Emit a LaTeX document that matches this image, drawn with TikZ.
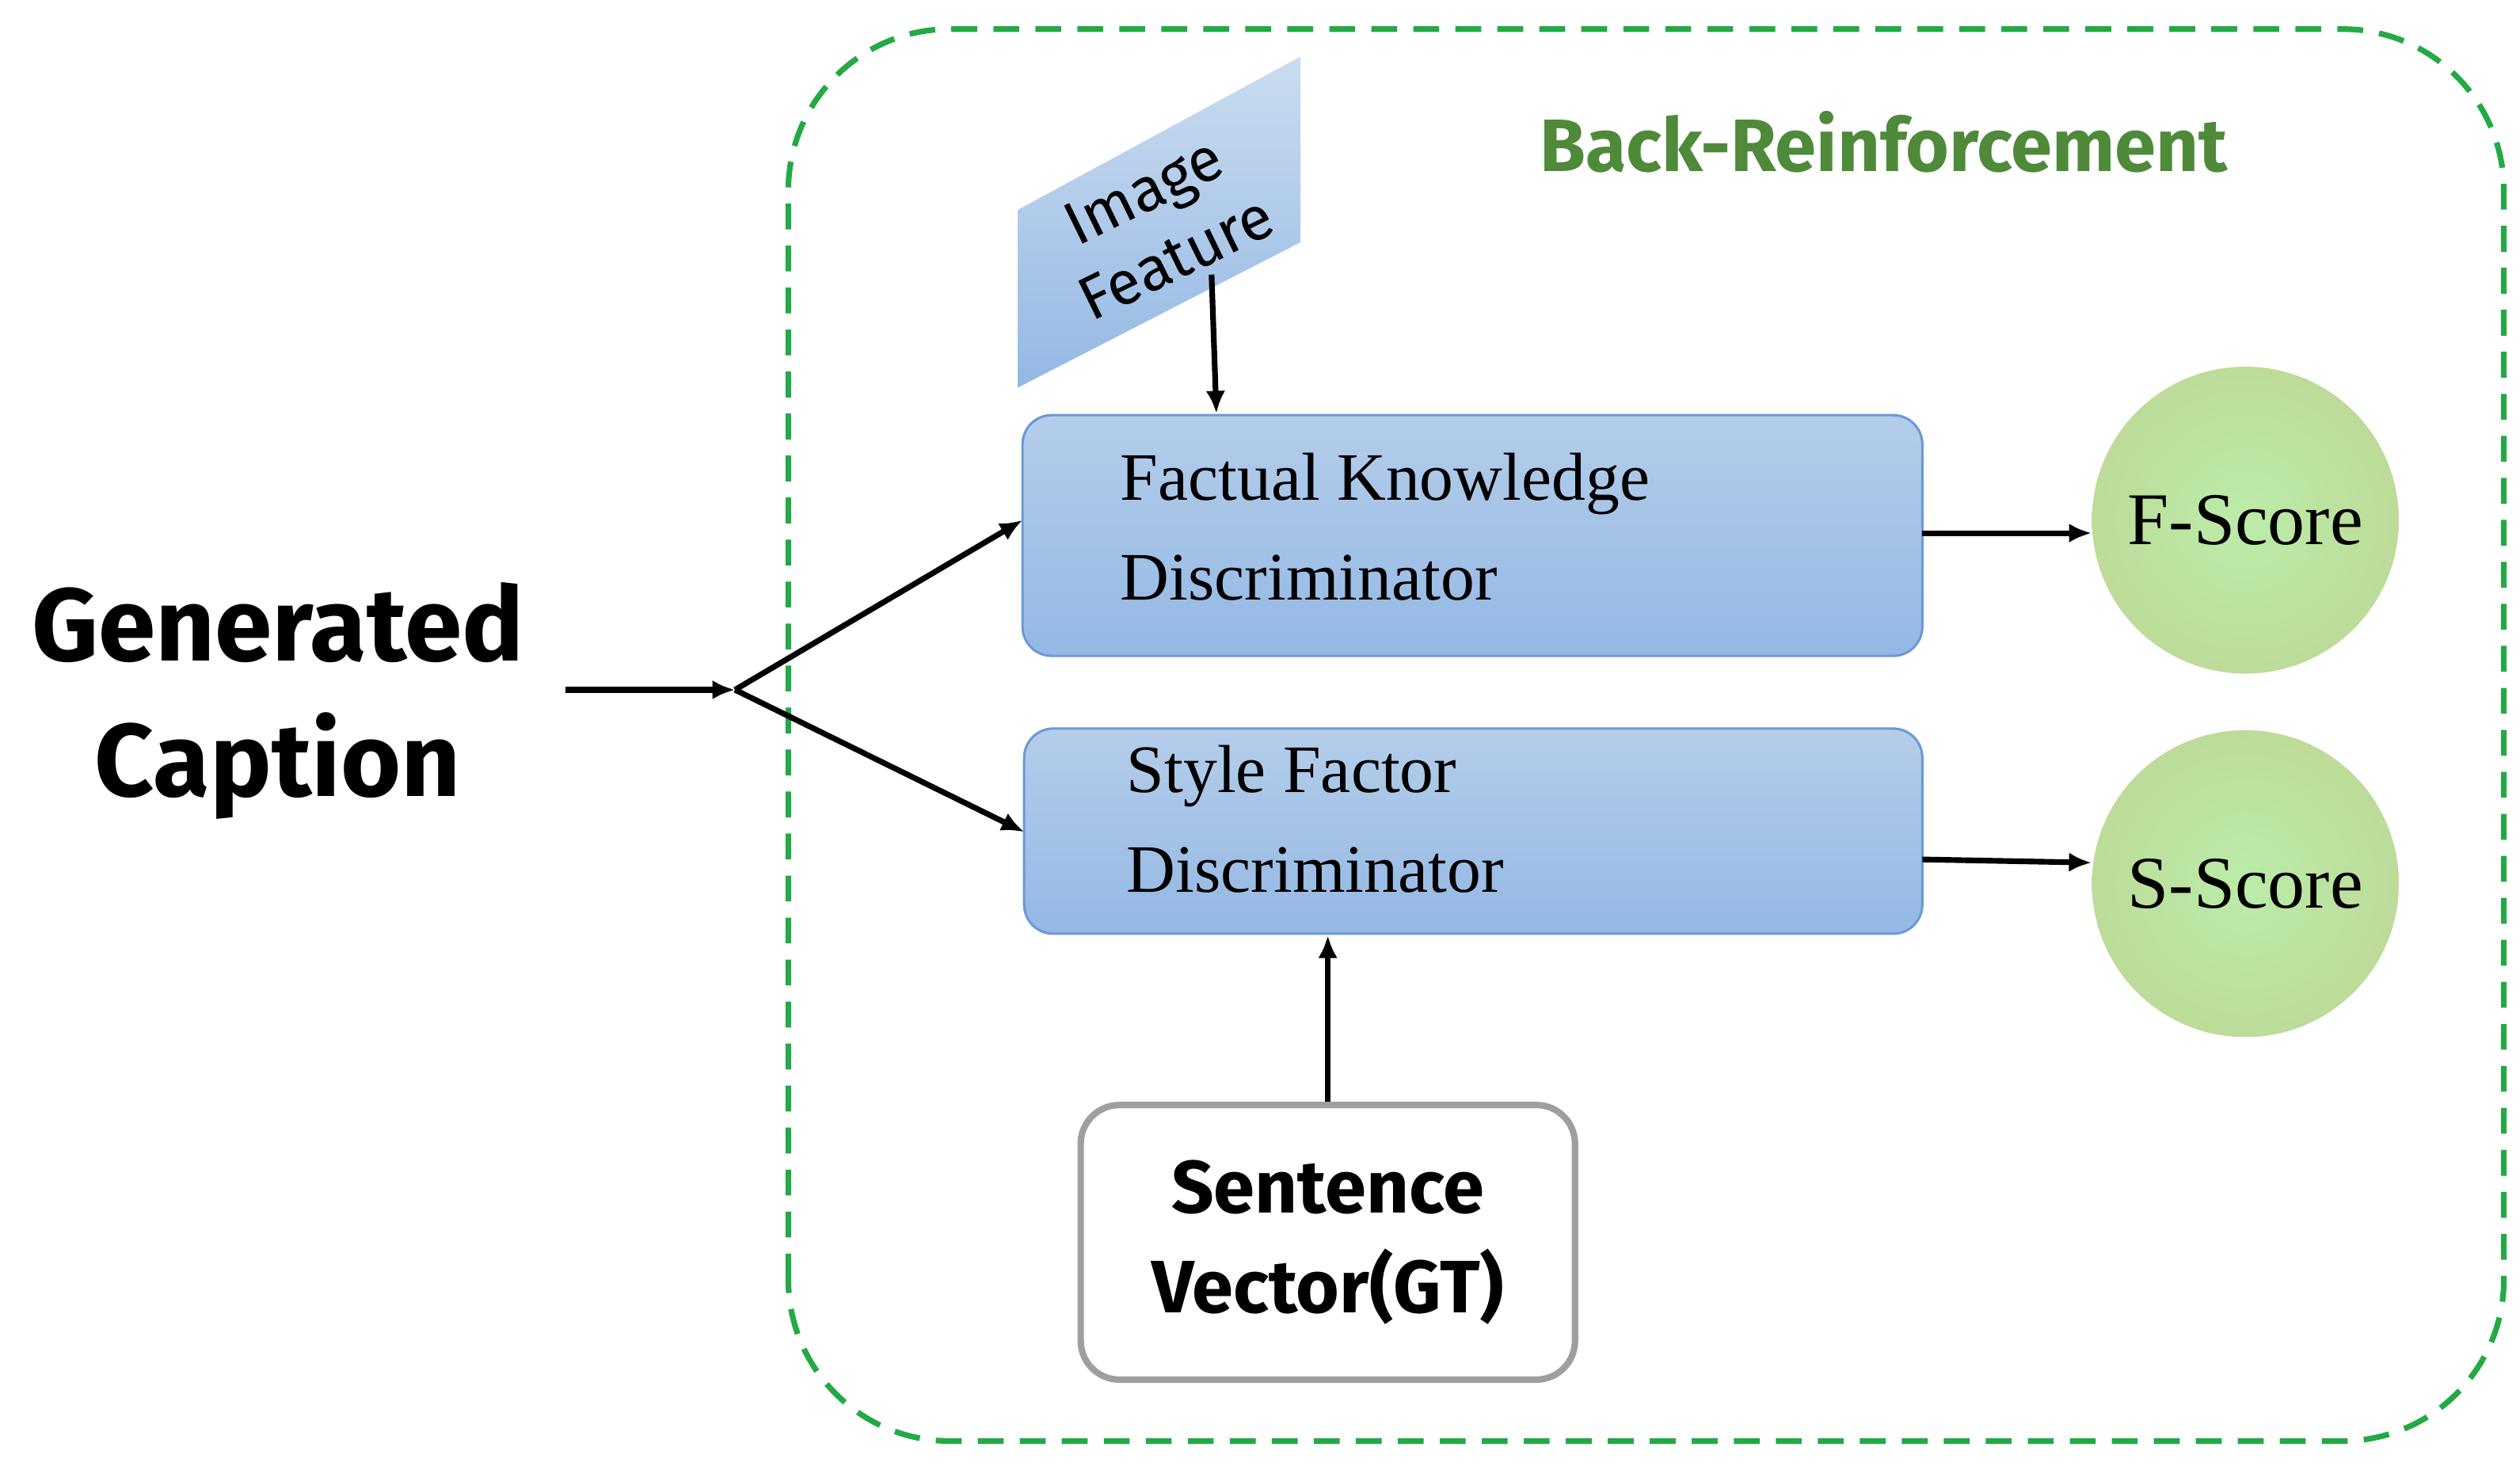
\documentclass[tikz,border=0pt]{standalone}
\usepackage{fontspec}
\setmainfont{Liberation Serif}
\newfontfamily\dinf{Fira Sans}
\usetikzlibrary{arrows.meta,shadings}
\definecolor{bgreen}{HTML}{22AA44}
\definecolor{tgreen}{HTML}{4E8A3A}
\definecolor{bxtop}{HTML}{B4CDEA}
\definecolor{bxbot}{HTML}{94B8E4}
\definecolor{bxline}{HTML}{6A9AD6}
\tikzset{
  arr/.style={-{Latex[length=14pt,width=12pt]},line width=3.5pt},
  disc/.style={draw=bxline,line width=1.5pt,rounded corners=18pt,top color=bxtop,bottom color=bxbot},
  score/.style={circle,minimum size=190pt,inner sep=0pt,inner color=green!22!white!85!olive,outer color=green!30!olive!40!white,
     font=\fontsize{46}{50}\selectfont},
  fsz/.style={font=\fontsize{42}{62}\selectfont,align=left,anchor=west}
}
\begin{document}
\begin{tikzpicture}[x=1pt,y=1pt]
\useasboundingbox (0,0) rectangle (1560,907);
% dashed frame
\draw[bgreen,line width=3.5pt,dash pattern=on 16pt off 10pt,rounded corners=100pt] (488,15) rectangle (1550,889);
\node[text=tgreen,font=\dinf\fontsize{46}{50}\selectfont\bfseries] (title) at (1166,819) {Back-Reinforcement};
% image feature parallelogram
\shade[top color=bxtop!70!white,bottom color=bxbot,draw=none] (630,667) -- (805,757) -- (805,872) -- (630,777) -- cycle;
\node[rotate=26,font=\dinf\fontsize{38}{46}\selectfont,align=center] (if) at (718,768) {Image\\Feature};
% discriminators
\draw[disc] (633,501) rectangle (1190,650);
\node[fsz] (fkt) at (690,581) {Factual Knowledge\\Discriminator};
\draw[disc] (634,329) rectangle (1190,456);
\node[fsz] (sft) at (694,400) {Style Factor\\Discriminator};
% scores
\node[score] (fs) at (1390,585) {F-Score};
\node[score] (ss) at (1390,360) {S-Score};
% sentence vector
\node[draw=gray!75,line width=4pt,rounded corners=24pt,fill=white,minimum width=306pt,minimum height=170pt,
  font=\dinf\bfseries\fontsize{46}{62}\selectfont,align=center] (sv) at (822,138) {Sentence\\Vector(GT)};
% generated caption
\node[font=\dinf\bfseries\fontsize{64}{84}\selectfont,align=center] (gc) at (172,473) {Generated\\Caption};
\coordinate (g0) at (350,480);
\coordinate (split) at (455,480);
\coordinate (fkin) at (633,585);
\coordinate (sfin) at (634,392);
\coordinate (ifout) at (750,737);
\coordinate (fkin2) at (753,651);
\coordinate (fkout) at (1190,577);
\coordinate (sfout) at (1190,375);
\draw[arr] (g0) -- (split);
\draw[arr] (split) -- (fkin);
\draw[arr] (split) -- (sfin);
\draw[arr] (ifout) -- (fkin2);
\draw[arr] (fkout) -- (fs.west |- fkout);
\draw[arr] (sfout) -- ([yshift=-2pt]ss.west |- sfout);
\draw[arr] (sv.north) -- (822,328);
\end{tikzpicture}
\end{document}
